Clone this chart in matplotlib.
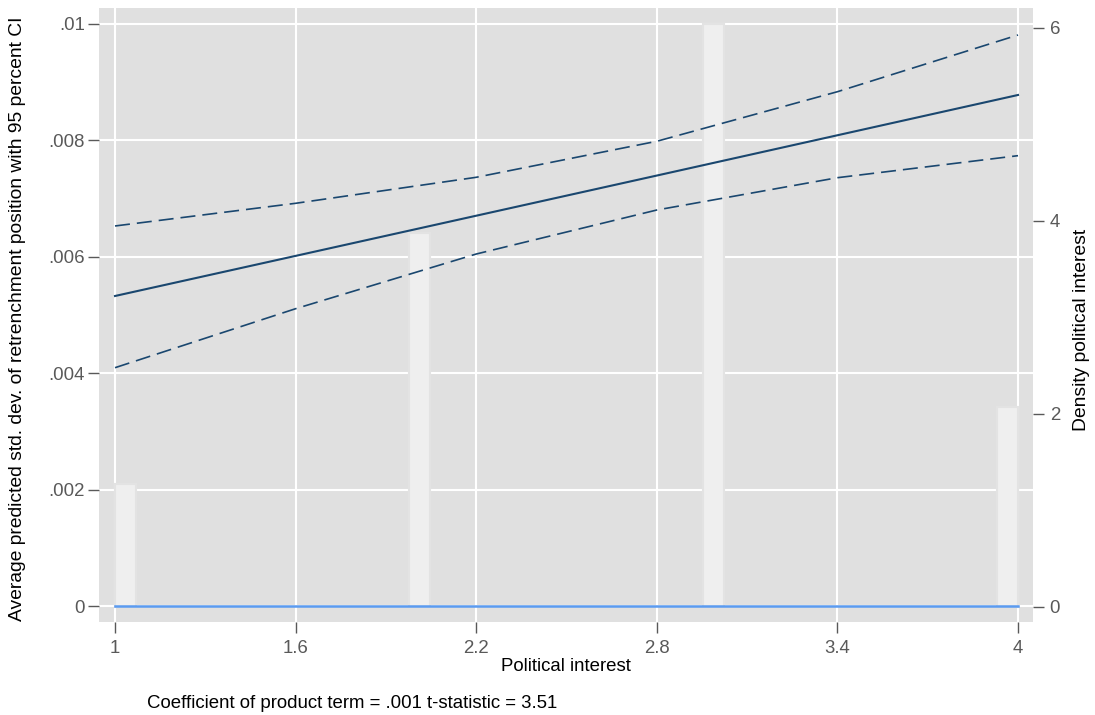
import matplotlib.pyplot as plt
import numpy as np

plt.rcParams['font.family'] = ['Liberation Sans', 'DejaVu Sans']

# valeurs
x_pts = [1.0, 1.6, 2.2, 2.8, 3.4, 4.0]
pred = [0.005326, 0.006014, 0.006703, 0.007392, 0.008083, 0.008774]
ci_hi = [0.006527, 0.006916, 0.007362, 0.007980, 0.008830, 0.009803]
ci_lo = [0.004096, 0.005108, 0.006046, 0.006801, 0.007355, 0.007733]

# histogramme (densité) de l'intérêt politique
bin_left = [1.0, 1.977, 2.953, 3.930]
density = [1.27, 3.87, 6.04, 2.07]
bin_width = 3 / 43

x_ticks = [1, 1.6, 2.2, 2.8, 3.4, 4]
x_labels = ["1", "1.6", "2.2", "2.8", "3.4", "4"]
y_ticks = [0, 0.002, 0.004, 0.006, 0.008, 0.01]
y_labels = ["0", ".002", ".004", ".006", ".008", ".01"]
y2_ticks = [0, 2, 4, 6]

navy = '#1a476f'
bg = '#e0e0e0'
tick_col = '#595959'
fs = 13.4

fig = plt.figure(figsize=(10.95, 7.15), dpi=100)
ax = fig.add_axes([99/1095, 1-622/715, 934/1095, 614/715])
ax.set_facecolor(bg)
ax2 = ax.twinx()

ax.set_xlim(0.9468, 4.0498)
ax.set_ylim(-0.000266, 0.010266)
ax2.set_ylim(-0.159, 6.204)

# grille blanche sous les barres
ax.grid(True, color='white', linewidth=1.5)
ax.set_axisbelow(True)

# barres sur l'axe de droite
ax2.bar(bin_left, density, width=bin_width, align='edge',
        color='#efefef', edgecolor='#e3e3e3', linewidth=1.5, zorder=1)

# courbes tracées au-dessus des barres
ax2.plot(x_pts, pred, color=navy, linewidth=1.5, transform=ax.transData, zorder=3)
ax2.plot(x_pts, ci_hi, color=navy, linewidth=1.2, linestyle=(0, (9, 4.2)),
         transform=ax.transData, zorder=3)
ax2.plot(x_pts, ci_lo, color=navy, linewidth=1.2, linestyle=(0, (9, 4.2)),
         transform=ax.transData, zorder=3)
ax2.plot([x_pts[0], x_pts[-1]], [0, 0], color='#5b9bf0', linewidth=1.8,
         transform=ax.transData, zorder=3)

for a in (ax, ax2):
    for s in a.spines.values():
        s.set_visible(False)

ax.set_xticks(x_ticks)
ax.set_xticklabels(x_labels)
ax.set_yticks(y_ticks)
ax.set_yticklabels(y_labels)
ax2.set_yticks(y2_ticks)
ax2.set_yticklabels([str(v) for v in y2_ticks])

ax.tick_params(axis='y', direction='out', length=8, width=1, color=tick_col,
               labelcolor=tick_col, labelsize=fs, pad=2)
ax.tick_params(axis='x', direction='out', length=8, width=1, color=tick_col,
               labelcolor=tick_col, labelsize=fs, pad=5)
ax2.tick_params(axis='y', direction='out', length=8, width=1, color=tick_col,
                labelcolor=tick_col, labelsize=fs, pad=4)

ax.set_xlabel("Political interest", fontsize=fs, labelpad=1)
ax.set_ylabel("Average predicted std. dev. of retrenchment position with 95 percent CI",
              fontsize=13.9)
ax.yaxis.set_label_coords(-(99-26)/934, 0.494)
ax2.set_ylabel("Density political interest", fontsize=13.9)
ax2.yaxis.set_label_coords((1073-99)/934, 0.475)

fig.text(147/1095, 1-703/715, "Coefficient of product term = .001 t-statistic = 3.51",
         fontsize=fs, va='center', ha='left')

fig.savefig('out.png', dpi=100)
